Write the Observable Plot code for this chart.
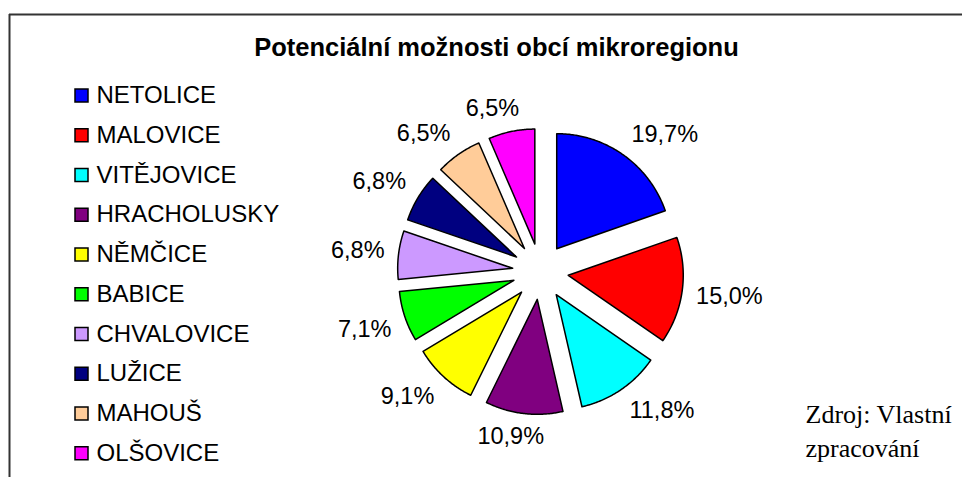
<!DOCTYPE html>
<html>
<head>
<meta charset="utf-8">
<script src="https://cdn.jsdelivr.net/npm/d3@7"></script>
<script src="https://cdn.jsdelivr.net/npm/@observablehq/plot@0.6"></script>
<style>
  html, body { margin: 0; padding: 0; background: #fff; }
  #chart svg { display: block; }
</style>
</head>
<body>
<div id="chart"></div>
<script>
// ---- data ----
const names = ["NETOLICE", "MALOVICE", "VITĚJOVICE", "HRACHOLUSKY", "NĚMČICE", "BABICE", "CHVALOVICE", "LUŽICE", "MAHOUŠ", "OLŠOVICE"];
const values = [19.7, 15.0, 11.8, 10.9, 9.1, 7.1, 6.8, 6.8, 6.5, 6.5];
const colors = ["#0000FF", "#FF0000", "#00FFFF", "#800080", "#FFFF00", "#00FF00", "#CC99FF", "#000080", "#FFCC99", "#FF00FF"];
const title = "Potenciální možnosti obcí mikroregionu";
const captionLines = ["Zdroj: Vlastní", "zpracování"];

// ---- layout ----
const W = 962, H = 477;
const cx = 540, cy = 271, r = 115, explode = 28, labelD = 157;
const labelFont = 23.5, legendFont = 24;
const fmt = v => d3.format(".1f")(v).replace(".", ",") + "%";
const clamp = v => Math.max(-1, Math.min(1, v));

const arcs = d3.pie().sort(null).value(d => d)(values);

const slicePts = [];
const labelPts = [];
arcs.forEach((a, i) => {
  const bis = (a.startAngle + a.endAngle) / 2;
  const s = Math.sin(bis), c = Math.cos(bis);
  const ox = cx + explode * s, oy = cy - explode * c;
  slicePts.push({name: names[i], x: ox, y: oy});
  const n = Math.max(2, Math.ceil((a.endAngle - a.startAngle) / 0.01));
  for (let k = 0; k <= n; k++) {
    const t = a.startAngle + (a.endAngle - a.startAngle) * k / n;
    slicePts.push({name: names[i], x: ox + r * Math.sin(t), y: oy - r * Math.cos(t)});
  }
  const txt = fmt(values[i]);
  const em = [...txt].reduce((acc, ch) => acc + (ch === "," ? 0.278 : ch === "%" ? 0.889 : 0.556), 0);
  const hw = em * labelFont / 2, hh = 9;
  labelPts.push({
    text: txt,
    x: cx + labelD * s + hw * clamp(3 * s),
    y: cy - labelD * c - hh * clamp(3 * c)
  });
});

const rowY0 = 95, rowStep = 39.75;
const legend = names.map((n, i) => ({name: n, y: rowY0 + rowStep * i}));

const sans = "Liberation Sans, Arial, sans-serif";
const chart = Plot.plot({
  width: W, height: H,
  margin: 0,
  x: {type: "linear", domain: [0, W], range: [0, W], axis: null},
  y: {type: "linear", domain: [0, H], range: [0, H], axis: null},
  color: {domain: names, range: colors},
  style: {background: "#fff"},
  marks: [
    // frame
    Plot.ruleY([14], {x1: 9, x2: W, stroke: "#333", strokeWidth: 2}),
    Plot.ruleX([9], {y1: 14, y2: H, stroke: "#333", strokeWidth: 2}),
    // title
    Plot.text([title], {x: 496, y: 47, text: d => d, fontSize: 25.5, fontWeight: "bold", fontFamily: sans, fill: "black", lineAnchor: "middle"}),
    // pie slices
    Plot.line(slicePts, {x: "x", y: "y", z: "name", fill: "name", stroke: "black", strokeWidth: 1.5, curve: "linear-closed"}),
    // labels
    Plot.text(labelPts, {x: "x", y: "y", text: "text", fontSize: labelFont, fontFamily: sans, fill: "black", textAnchor: "middle", lineAnchor: "middle"}),
    // legend
    Plot.rect(legend, {x1: 75, x2: 88, y1: d => d.y - 6, y2: d => d.y + 7, fill: "name", stroke: "black", strokeWidth: 1.5}),
    Plot.text(legend, {x: 96, y: "y", text: "name", fontSize: legendFont, fontFamily: sans, fill: "black", textAnchor: "start", lineAnchor: "middle"}),
    // caption
    Plot.text(captionLines.map((t, i) => ({t, y: 414 + 34 * i})), {x: 805, y: "y", text: "t", fontSize: 26, fontFamily: "Liberation Serif, Times New Roman, serif", fill: "black", textAnchor: "start", lineAnchor: "middle"})
  ]
});
document.getElementById("chart").appendChild(chart);
</script>
</body>
</html>
